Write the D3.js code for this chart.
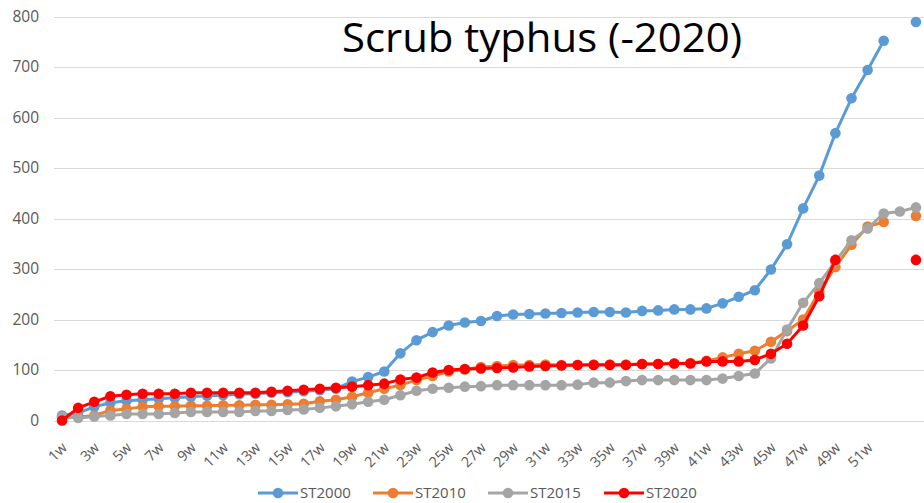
<!DOCTYPE html>
<html>
<head>
<meta charset="utf-8">
<script src="https://cdn.jsdelivr.net/npm/d3@7"></script>
<style>
  html, body { margin: 0; padding: 0; background: #fff; }
  svg { display: block; font-family: "Open Sans", "Noto Sans", sans-serif; }
</style>
</head>
<body>
<svg width="924" height="503"></svg>
<script>
const weeks = ["1w","2w","3w","4w","5w","6w","7w","8w","9w","10w","11w","12w","13w","14w","15w","16w","17w","18w","19w","20w",
    "21w","22w","23w","24w","25w","26w","27w","28w","29w","30w","31w","32w","33w","34w","35w","36w","37w","38w","39w","40w",
    "41w","42w","43w","44w","45w","46w","47w","48w","49w","50w","51w","52w","",""];

const st2000 = [10,15,27,35,39,41,43,45,47,49,50,52,53,55,56,58,60,63,77,86,
    97,133,159,175,188,194,197,207,210,211,212,213,214,215,215,214,217,218,220,220,
    222,232,245,258,299,349,420,485,569,638,694,752,null,789];
const st2010 = [5,7,10,20,23,27,28,28,29,29,30,30,31,31,32,33,38,41,47,55,
    63,70,80,88,97,101,106,108,110,110,111,110,110,111,111,111,112,112,113,114,
    118,125,132,138,156,177,200,255,304,348,384,393,null,405];
const st2015 = [8,5,8,10,13,13,13,15,17,17,17,17,19,19,21,22,25,28,32,37,
    41,50,59,63,65,67,68,70,70,70,70,70,71,75,75,78,80,80,80,80,
    80,83,88,93,123,180,233,272,315,357,380,410,414,422];
const st2020 = [0,25,37,48,51,53,53,53,55,55,55,55,55,57,59,61,63,65,67,70,
    73,81,85,95,100,102,103,104,105,107,108,109,110,110,110,110,112,112,113,113,
    117,117,117,120,132,152,188,246,318,null,null,null,null,318];

const seriesNames = ["ST2000", "ST2010", "ST2015", "ST2020"];
const seriesColors = ["#5b9bd5", "#ed7d31", "#a5a5a5", "#ff0000"];
const yTicks = [0, 100, 200, 300, 400, 500, 600, 700, 800];

const series = [st2000, st2010, st2015, st2020].map((values, i) => ({
    name: seriesNames[i], color: seriesColors[i], values
}));

const svg = d3.select("svg");
const plotLeft = 54, plotRight = 924, plotTop = 16.5, plotBottom = 420.5;

const x = d3.scaleBand()
    .domain(d3.range(weeks.length))
    .range([plotLeft, plotRight]);
const cx = i => x(i) + x.bandwidth() / 2;

const y = d3.scaleLinear()
    .domain([0, 800])
    .range([plotBottom, plotTop]);

// gridlines
svg.append("g")
    .selectAll("line")
    .data(yTicks)
    .join("line")
    .attr("x1", plotLeft)
    .attr("x2", plotRight)
    .attr("y1", d => Math.round(y(d)) + 0.5)
    .attr("y2", d => Math.round(y(d)) + 0.5)
    .attr("stroke", "#d9d9d9")
    .attr("stroke-width", 1);

// y axis labels
const yAxis = svg.append("g")
    .attr("transform", `translate(${plotLeft - 15},0)`)
    .call(d3.axisLeft(y).tickValues(yTicks).tickSize(0).tickPadding(0));
yAxis.select(".domain").remove();
yAxis.selectAll("text")
    .attr("fill", "#595959")
    .style("font-size", "15.5px")
    .style("font-family", "'Open Sans', sans-serif");

// x axis labels, rotated
const xAxis = svg.append("g")
    .attr("transform", `translate(0,${plotBottom})`)
    .call(d3.axisBottom(x)
        .tickValues(d3.range(0, weeks.length, 2))
        .tickSize(0)
        .tickFormat(i => weeks[i]));
xAxis.select(".domain").remove();
xAxis.selectAll("text")
    .attr("fill", "#595959")
    .style("font-size", "14.5px")
    .style("font-family", "'Open Sans', sans-serif")
    .attr("text-anchor", "end")
    .attr("y", 0)
    .attr("dy", 0)
    .attr("transform", `translate(6,28) rotate(-45)`);

// lines
const line = d3.line()
    .defined(d => d != null)
    .x((d, i) => cx(i))
    .y(d => y(d));

const groups = svg.selectAll("g.series")
    .data(series)
    .join("g")
    .attr("class", "series");

groups.append("path")
    .attr("d", d => line(d.values))
    .attr("fill", "none")
    .attr("stroke", d => d.color)
    .attr("stroke-width", 3)
    .attr("stroke-linejoin", "round");

groups.selectAll("circle")
    .data(d => d.values.map((v, i) => ({ v, i, color: d.color })).filter(p => p.v != null))
    .join("circle")
    .attr("cx", p => cx(p.i))
    .attr("cy", p => y(p.v))
    .attr("r", 5.3)
    .attr("fill", p => p.color);

// title
svg.append("text")
    .attr("x", 342)
    .attr("y", 52)
    .attr("textLength", 400)
    .attr("lengthAdjust", "spacingAndGlyphs")
    .style("font-size", "40px")
    .attr("fill", "#000")
    .text("Scrub typhus (-2020)");

// legend
const legendX = [258, 373, 488, 604];
const legend = svg.append("g")
    .selectAll("g")
    .data(series)
    .join("g")
    .attr("transform", (d, i) => `translate(${legendX[i]},493)`);

legend.append("line")
    .attr("x1", 0).attr("x2", 40)
    .attr("stroke", d => d.color)
    .attr("stroke-width", 3);
legend.append("circle")
    .attr("cx", 20)
    .attr("r", 5.3)
    .attr("fill", d => d.color);
legend.append("text")
    .attr("x", 42)
    .attr("dy", "0.35em")
    .attr("fill", "#595959")
    .style("font-size", "15px")
    .text(d => d.name);
</script>
</body>
</html>
